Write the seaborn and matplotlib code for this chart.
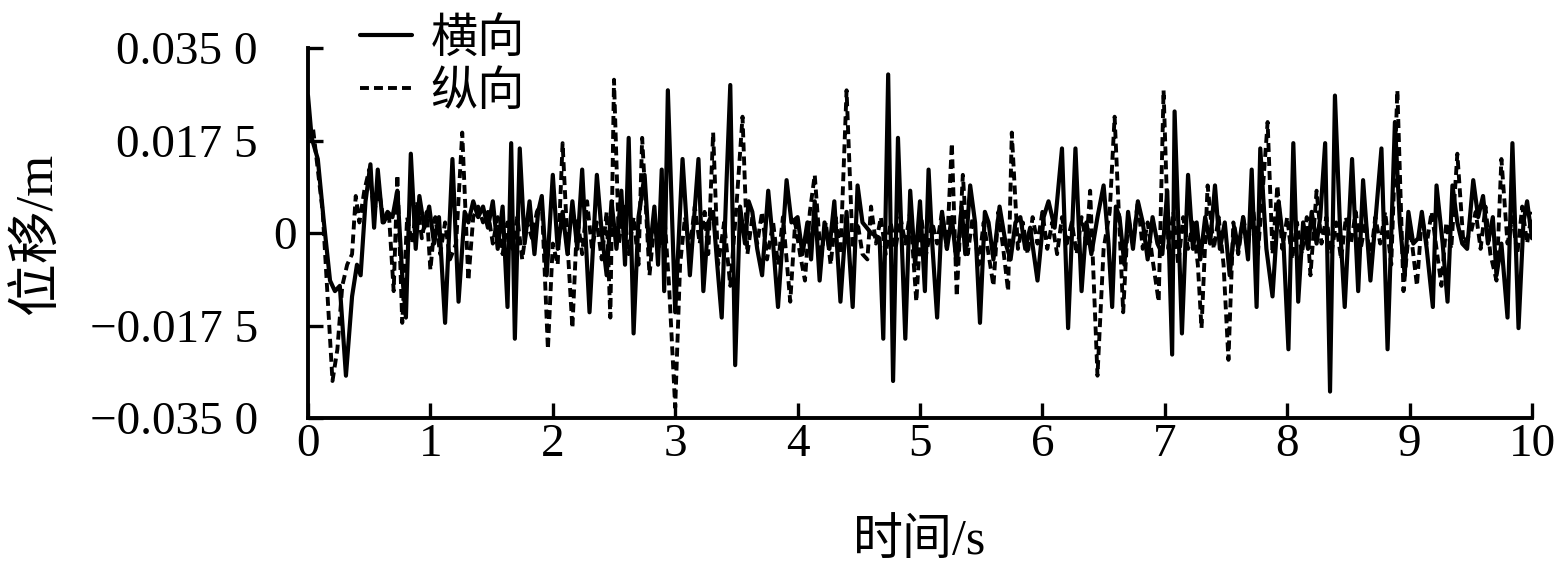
import matplotlib
matplotlib.use("Agg")
import matplotlib.pyplot as plt
import matplotlib.transforms as mtransforms
import numpy as np
import pandas as pd
import seaborn as sns

# ---------------- data ----------------
# 横向 (lateral) displacement, time in s, value in mm
lat_t = [0.00, 0.03, 0.08, 0.13, 0.18, 0.22, 0.26, 0.31, 0.36, 0.40, 0.43, 0.47, 0.51, 0.54, 0.57, 0.61,
         0.65, 0.69, 0.73, 0.77, 0.80, 0.84, 0.88, 0.91, 0.95, 0.99, 1.03, 1.07, 1.12, 1.18, 1.23, 1.28,
         1.31, 1.35, 1.39, 1.43, 1.47, 1.51, 1.55, 1.59, 1.63, 1.66, 1.69, 1.73, 1.77, 1.81, 1.85, 1.88,
         1.91, 1.95, 2.00, 2.04, 2.08, 2.12, 2.16, 2.20, 2.24, 2.30, 2.36, 2.40, 2.44, 2.48, 2.52, 2.56,
         2.59, 2.62, 2.66, 2.70, 2.75, 2.79, 2.83, 2.86, 2.89, 2.91, 2.94, 3.00, 3.06, 3.12, 3.19, 3.23,
         3.27, 3.31, 3.34, 3.38, 3.42, 3.45, 3.49, 3.53, 3.57, 3.60, 3.63, 3.67, 3.71, 3.76, 3.80, 3.84,
         3.91, 3.95, 4.00, 4.04, 4.08, 4.11, 4.14, 4.18, 4.22, 4.26, 4.30, 4.35, 4.40, 4.45, 4.49, 4.53,
         4.60, 4.67, 4.70, 4.74, 4.78, 4.82, 4.88, 4.92, 4.96, 5.00, 5.04, 5.07, 5.10, 5.14, 5.18, 5.22,
         5.26, 5.30, 5.34, 5.37, 5.41, 5.45, 5.49, 5.53, 5.56, 5.60, 5.65, 5.70, 5.74, 5.78, 5.82, 5.86,
         5.90, 5.96, 6.01, 6.05, 6.10, 6.16, 6.21, 6.27, 6.32, 6.36, 6.40, 6.45, 6.50, 6.54, 6.57, 6.60,
         6.63, 6.67, 6.70, 6.74, 6.78, 6.82, 6.86, 6.90, 6.94, 6.98, 7.02, 7.06, 7.08, 7.14, 7.19, 7.23,
         7.26, 7.29, 7.33, 7.37, 7.41, 7.45, 7.49, 7.53, 7.57, 7.60, 7.64, 7.68, 7.71, 7.75, 7.78, 7.83,
         7.88, 7.93, 7.97, 8.01, 8.05, 8.09, 8.13, 8.17, 8.20, 8.24, 8.27, 8.31, 8.35, 8.39, 8.43, 8.47,
         8.53, 8.58, 8.62, 8.68, 8.72, 8.77, 8.82, 8.88, 8.92, 8.96, 8.99, 9.03, 9.07, 9.10, 9.14, 9.19,
         9.22, 9.27, 9.31, 9.35, 9.39, 9.43, 9.47, 9.52, 9.56, 9.60, 9.64, 9.68, 9.71, 9.75, 9.80, 9.84,
         9.89, 9.93, 9.96, 10.00]
lat_mm = [26, 18, 14, 2, -9, -11, -10, -27, -12, -6, -8, 6, 13, 1, 12, 2,
          4, 3, 8, -8, -16, 15, -3, 7, 1, 5, -2, 3, -17, 14, -13, 4,
          2, 6, 3, 5, 1, 6, -3, 5, -14, 17, -20, 16, -2, 6, -4, 4,
          7, -8, 11, -3, 4, -4, 6, -3, 12, -15, 11, 0, -8, 6, -3, 8,
          -6, 18, -19, 3, 11, -4, 5, -6, 12, -11, 27, -15, 14, -8, 14, -11,
          2, 4, -5, -16, 10, 28, -25, 5, -2, 6, 4, -3, -8, 8, -2, -14,
          10, 2, 3, -4, 2, -5, 6, -9, 2, -3, 6, -13, 4, -14, 9, 2,
          0, -1, -20, 30, -28, 18, -20, 8, -6, 6, -11, 12, -2, -16, 4, -3,
          3, -6, 5, -4, 9, 2, -17, 4, 2, -5, 5, -2, -5, 2, 3, -3,
          1, -9, 3, 6, 1, 16, -18, 16, -11, 2, -4, 3, 9, -2, -14, 5,
          3, -6, 4, -3, 6, 2, -5, 3, -2, -4, 8, -23, 23, -19, 11, -3,
          2, -5, 3, -2, 9, -3, 2, -8, 1, -3, 3, -5, 12, -14, 16, -3,
          -12, 6, -2, -22, 17, -13, 2, -3, 4, -2, 3, 17, -30, 26, 2, -14,
          14, -11, 10, -9, 2, 16, -22, 21, 2, -8, 4, -2, -1, 4, -3, -14,
          9, -2, -13, 9, 2, -2, -3, 10, 3, 7, -2, 3, -8, -2, -16, 17,
          -18, 2, 6, -1]

# 纵向 (longitudinal) displacement, time in s, value in mm
lon_t = [0.00, 0.04, 0.08, 0.12, 0.16, 0.20, 0.24, 0.28, 0.32, 0.36, 0.39, 0.42, 0.46, 0.50, 0.54, 0.58,
         0.62, 0.66, 0.70, 0.73, 0.77, 0.81, 0.85, 0.89, 0.93, 0.97, 1.00, 1.04, 1.08, 1.12, 1.16, 1.21,
         1.26, 1.31, 1.35, 1.39, 1.43, 1.47, 1.51, 1.55, 1.59, 1.63, 1.67, 1.71, 1.75, 1.79, 1.83, 1.87,
         1.91, 1.96, 2.00, 2.04, 2.08, 2.12, 2.16, 2.20, 2.24, 2.28, 2.32, 2.36, 2.40, 2.44, 2.47, 2.50,
         2.54, 2.58, 2.62, 2.66, 2.70, 2.73, 2.79, 2.83, 2.87, 2.91, 2.95, 3.00, 3.04, 3.08, 3.12, 3.16,
         3.20, 3.24, 3.27, 3.31, 3.35, 3.40, 3.45, 3.50, 3.55, 3.59, 3.63, 3.67, 3.71, 3.75, 3.80, 3.84,
         3.88, 3.94, 3.98, 4.02, 4.06, 4.10, 4.14, 4.19, 4.23, 4.27, 4.31, 4.35, 4.40, 4.45, 4.49, 4.53,
         4.57, 4.60, 4.64, 4.68, 4.72, 4.76, 4.80, 4.84, 4.88, 4.92, 4.97, 5.01, 5.05, 5.10, 5.14, 5.18,
         5.22, 5.26, 5.30, 5.35, 5.39, 5.43, 5.48, 5.52, 5.56, 5.60, 5.64, 5.68, 5.72, 5.75, 5.80, 5.84,
         5.88, 5.92, 5.96, 6.00, 6.04, 6.08, 6.12, 6.16, 6.20, 6.24, 6.28, 6.32, 6.36, 6.39, 6.45, 6.50,
         6.55, 6.59, 6.66, 6.70, 6.74, 6.78, 6.82, 6.86, 6.90, 6.95, 6.99, 7.03, 7.07, 7.11, 7.15, 7.19,
         7.23, 7.27, 7.30, 7.35, 7.40, 7.44, 7.48, 7.52, 7.56, 7.60, 7.64, 7.68, 7.72, 7.76, 7.80, 7.84,
         7.88, 7.92, 7.96, 8.00, 8.04, 8.08, 8.12, 8.16, 8.19, 8.24, 8.28, 8.32, 8.36, 8.40, 8.44, 8.48,
         8.52, 8.56, 8.60, 8.64, 8.68, 8.72, 8.76, 8.80, 8.85, 8.90, 8.95, 9.00, 9.06, 9.10, 9.14, 9.18,
         9.22, 9.26, 9.30, 9.34, 9.39, 9.44, 9.50, 9.54, 9.58, 9.62, 9.66, 9.71, 9.75, 9.80, 9.84, 9.88,
         9.92, 9.96, 10.00]
lon_mm = [18, 20, 12, 4, -12, -28, -22, -10, -6, -4, 7, 2, 8, 12, 4, 8,
          2, 4, -11, 11, -17, 3, -2, 6, -1, 4, -7, 3, -4, 2, -5, -2,
          19, -9, 3, 5, 2, 4, -2, 3, -4, 2, -3, 3, -5, 2, -1, 4,
          6, -22, -2, -6, 17, -2, -18, 3, -4, 6, -3, 2, -5, 4, -16, 29,
          -2, 5, -4, 3, -6, 18, -8, 2, -3, 4, -10, -33, -6, 3, -3, 5,
          -2, 4, -4, 19, -6, 2, -10, 5, 22, -4, 3, -2, 4, -5, 2, -6,
          3, -13, 2, -4, -9, 4, 11, -5, 2, -6, 3, -4, 27, -3, 2, -4,
          -5, 5, -2, 3, -4, 2, -3, 3, -2, 4, -13, 3, -4, 2, -2, 4,
          -3, 17, -12, 11, -4, 3, -6, 2, -4, -10, 4, -3, -11, 19, -3, 2,
          -4, 3, -2, 4, -3, 2, -4, 3, -2, 2, -4, 3, -2, 8, -27, -3,
          4, 22, -15, 3, -2, 6, -3, 2, -5, -13, 27, -3, 4, -6, 3, -3,
          2, -6, -18, 9, -3, 3, -6, -24, 2, -4, 3, -2, 5, -4, 8, 21,
          -4, 9, -3, 3, -5, 2, -4, 3, -8, 8, -2, 3, -4, 2, -5, 3,
          -2, 4, -3, 2, -5, 3, -2, 4, -6, 27, -11, 2, -10, 3, -2, 4,
          -3, -10, 2, -3, 15, -2, 0, 4, -3, 5, -4, -9, 14, -2, 3, -4,
          5, -2, 4]

series_names = ["横向", "纵向"]
x_ticks = [0, 1, 2, 3, 4, 5, 6, 7, 8, 9, 10]
y_ticks = [-0.035, -0.0175, 0.0, 0.0175, 0.035]
y_tick_labels = ["\u22120.035 0", "\u22120.017 5", "0", "0.017 5", "0.035 0"]
x_label = "时间/s"
y_label = "位移/m"

# ---------------- style ----------------
sns.set_theme(style="ticks")
plt.rcParams["font.family"] = ["Liberation Serif", "Noto Sans CJK SC"]
plt.rcParams["axes.unicode_minus"] = True
plt.rcParams["text.color"] = "black"
plt.rcParams["axes.labelcolor"] = "black"
plt.rcParams["xtick.color"] = "black"
plt.rcParams["ytick.color"] = "black"
plt.rcParams["axes.edgecolor"] = "black"

W, H = 1561, 570
fig = plt.figure(figsize=(W / 100, H / 100), dpi=100)
ax = fig.add_axes([308 / W, 1 - 418 / H, (1532 - 308) / W, (418 - 48) / H])

df_lat = pd.DataFrame({"t": lat_t, "d": np.array(lat_mm) / 1000.0})
df_lon = pd.DataFrame({"t": lon_t, "d": np.array(lon_mm) / 1000.0})

sns.lineplot(data=df_lat, x="t", y="d", ax=ax, color="black", lw=3.0,
             estimator=None, sort=False, label=series_names[0])
sns.lineplot(data=df_lon, x="t", y="d", ax=ax, color="black", lw=2.8,
             estimator=None, sort=False, label=series_names[1],
             linestyle=(0, (2.3, 1.3)))

ax.set_xlim(0, 10)
ax.set_ylim(-0.035, 0.035)
ax.set_xticks(x_ticks)
ax.set_xticklabels([str(v) for v in x_ticks])
ax.set_yticks(y_ticks)
ax.set_yticklabels(y_tick_labels)

for s in ["top", "right"]:
    ax.spines[s].set_visible(False)
for s in ["left", "bottom"]:
    ax.spines[s].set_linewidth(2.8)
    ax.spines[s].set_color("black")

ax.tick_params(axis="both", direction="in", length=11, width=2.4, colors="black",
               labelsize=34, labelcolor="black")
ax.tick_params(axis="x", pad=4)
ax.tick_params(axis="y", pad=36)

# shift the "0" y tick label toward the axis, as in the reference
for tk, val in zip(ax.yaxis.get_major_ticks(), y_ticks):
    if val == 0.0:
        lab = tk.label1
        lab.set_transform(lab.get_transform() +
                          mtransforms.ScaledTranslation(0.39, 0, fig.dpi_scale_trans))

ax.set_xlabel(x_label, fontsize=36, color="black")
ax.xaxis.set_label_coords(0.5, (418 - 518) / 370)
ax.set_ylabel(y_label, fontsize=38, color="black")
ax.yaxis.set_label_coords((62 - 308) / 1224, 0.5)

handles, labels = ax.get_legend_handles_labels()
leg = ax.legend(handles, labels, loc="upper left",
                bbox_to_anchor=(360 / W, 1 - 18 / H), bbox_transform=fig.transFigure,
                frameon=False, fontsize=34, handlelength=1.1, handletextpad=0.4,
                borderpad=0, borderaxespad=0, labelspacing=0.2)
for txt in leg.get_texts():
    txt.set_color("black")

fig.savefig("out.png", dpi=100, facecolor="white")
